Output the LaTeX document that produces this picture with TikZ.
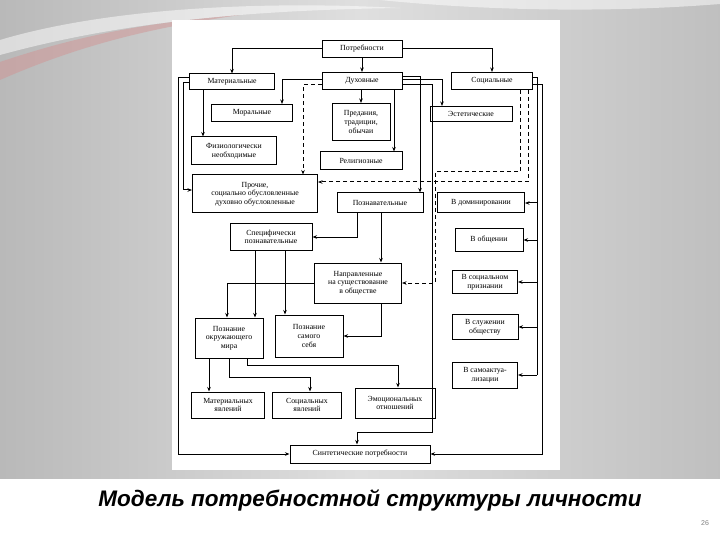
\documentclass[tikz,border=0pt]{standalone}
\usepackage{fontspec}
\setmainfont{Liberation Serif}
\newfontfamily\titlefont{Liberation Sans}
\usetikzlibrary{arrows.meta,calc}
\tikzset{
  bx/.style={draw,line width=1pt,fill=white,align=center,inner sep=1pt,font=\fontsize{7.8}{8.6}\selectfont},
  ln/.style={line width=1pt},
  ar/.style={ln,-{Stealth[length=4.5pt,width=3.5pt]}},
  da/.style={ar,dashed,dash pattern=on 4pt off 3pt}
}
\begin{document}
\begin{tikzpicture}[x=1pt,y=-1pt]
\useasboundingbox (0,0) rectangle (720,540);
\fill[white] (0,0) rectangle (720,540);
\shade[left color=gray!55,right color=gray!25] (0,0) rectangle (360,478);
\shade[left color=gray!25,right color=gray!50] (360,0) rectangle (720,478);
\fill[red!40!gray!60,opacity=0.5] (0,62) .. controls (80,35) and (150,22) .. (240,15) .. controls (150,28) and (80,45) .. (0,80) -- cycle;
\fill[white,opacity=0.5] (0,40) .. controls (100,10) and (250,0) .. (400,8) .. controls (250,10) and (120,22) .. (0,55) -- cycle;
\fill[white,opacity=0.5] (380,0) .. controls (500,12) and (620,12) .. (720,4) -- (720,0) -- cycle;
\fill[white] (172,20) rectangle (560,470);

\node[bx,minimum width=80pt,minimum height=17pt] (potr) at (362,49) {Потребности};
\node[bx,minimum width=85pt,minimum height=16pt] (mat) at (232,82) {Материальные};
\node[bx,minimum width=80pt,minimum height=17pt] (duh) at (362,81) {Духовные};
\node[bx,minimum width=81pt,minimum height=17pt] (soc) at (492,81) {Социальные};
\node[bx,minimum width=81pt,minimum height=17pt] (mor) at (252,113) {Моральные};
\node[bx,minimum width=58pt,minimum height=37pt] (pred) at (361,122) {Предания,\\традиции,\\обычаи};
\node[bx,minimum width=82pt,minimum height=15pt] (est) at (471,114) {Эстетические};
\node[bx,minimum width=85pt,minimum height=28pt] (fiz) at (234,151) {Физиологически\\необходимые};
\node[bx,minimum width=82pt,minimum height=18pt] (rel) at (361,161) {Религиозные};
\node[bx,minimum width=125pt,minimum height=38pt] (pro) at (255,194) {Прочие,\\социально обусловленные\\духовно обусловленные};
\node[bx,minimum width=86pt,minimum height=20pt] (poz) at (380,203) {Познавательные};
\node[bx,minimum width=87pt,minimum height=20pt] (dom) at (481,203) {В доминировании};
\node[bx,minimum width=82pt,minimum height=27pt] (spe) at (271,237) {Специфически\\познавательные};
\node[bx,minimum width=68pt,minimum height=22pt] (obsh) at (489,240) {В общении};
\node[bx,minimum width=87pt,minimum height=40pt] (napr) at (358,283) {Направленные\\на существование\\в обществе};
\node[bx,minimum width=65pt,minimum height=23pt] (prizn) at (485,282) {В социальном\\признании};
\node[bx,minimum width=68pt,minimum height=40pt] (okr) at (229,338) {Познание\\окружающего\\мира};
\node[bx,minimum width=68pt,minimum height=42pt] (sam) at (309,336) {Познание\\самого\\себя};
\node[bx,minimum width=66pt,minimum height=25pt] (sluzh) at (485,327) {В служении\\обществу};
\node[bx,minimum width=65pt,minimum height=26pt] (akt) at (485,375) {В самоактуа-\\лизации};
\node[bx,minimum width=73pt,minimum height=26pt] (mj) at (228,405) {Материальных\\явлений};
\node[bx,minimum width=69pt,minimum height=26pt] (sj) at (307,405) {Социальных\\явлений};
\node[bx,minimum width=80pt,minimum height=30pt] (ej) at (395,403) {Эмоциональных\\отношений};
\node[bx,minimum width=140pt,minimum height=18pt] (syn) at (360,454) {Синтетические потребности};

\draw[ar] (potr.west) -| (mat.north);
\draw[ar] (potr.east) -| (soc.north);
\draw[ar] (potr.south) -- (duh.north);
\draw[ar] ([xshift=-29pt]mat.south) -- ([xshift=-29pt]mat.south |- fiz.north);
\draw[ar] ([yshift=4pt]mat.west) -| (178,454) -- (syn.west);
\draw[ar] ([yshift=-1pt]mat.west) -| (183,190) -- ([yshift=4pt]pro.west);
\draw[ar] ([yshift=1pt]duh.west) -| ([xshift=30pt]mor.north);
\draw[ar] (pred.north |- duh.south) -- (pred.north);
\draw[ar] ([xshift=32pt]duh.south) -- ([xshift=32pt]duh.south |- rel.north);
\draw[ar] ([yshift=4pt]duh.east) -| ([xshift=40pt]poz.north);
\draw[ar] ([yshift=1pt]duh.east) -| ([xshift=-29pt]est.north);
\draw[ar] ([yshift=-4pt]duh.east) -| (432,432) -| ([xshift=-3pt]syn.north);
\draw[da] ([yshift=-4pt]duh.west) -| ([xshift=48pt]pro.north);
\draw[da] ([xshift=28pt]soc.south) |- (435,172) |- (napr.east);
\draw[da] ([xshift=36pt]soc.south) |- ([yshift=12pt]pro.east);
\draw[ar] ([yshift=-4pt]soc.east) -| (542,454) -- (syn.east);
\draw[ln] ([yshift=3pt]soc.east) -| (537,375);
\foreach \n in {dom,obsh,prizn,sluzh,akt}{\draw[ar] (537,0 |- \n.east) -- (\n.east);}
\draw[ar] ([xshift=-23pt]poz.south) |- (spe.east);
\draw[ar] ([xshift=1pt]poz.south) -- ([xshift=23pt]napr.north);
\draw[ar] ([xshift=-16pt]spe.south) -- ([xshift=26pt]okr.north);
\draw[ar] ([xshift=14pt]spe.south) -- ([xshift=-24pt]sam.north);
\draw[ar] (napr.west) -| ([xshift=-2pt]okr.north);
\draw[ar] ([xshift=23pt]napr.south) |- (sam.east);
\draw[ar] ([xshift=-20pt]okr.south) -- ([xshift=-19pt]mj.north);
\draw[ar] (okr.south) |- (310,377) -| ([xshift=3pt]sj.north);
\draw[ar] ([xshift=18pt]okr.south) |- (398,365) -| ([xshift=3pt]ej.north);

\node[font=\titlefont\bfseries\itshape\fontsize{22.5}{26}\selectfont] (title) at (370,500) {Модель потребностной структуры личности};
\node[font=\titlefont\fontsize{7}{8}\selectfont,text=gray] (pg) at (705,523) {26};
\end{tikzpicture}
\end{document}
